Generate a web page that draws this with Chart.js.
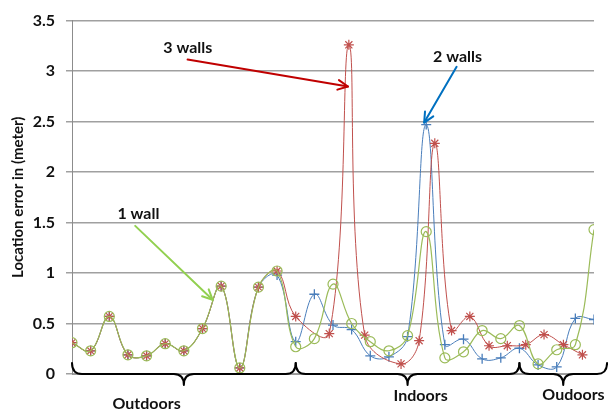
<!DOCTYPE html>
<html><head><meta charset="utf-8">
<script src="https://cdn.jsdelivr.net/npm/chart.js@4.4.0/dist/chart.umd.min.js"></script>
<style>html,body{margin:0;padding:0;background:#fff}#wrap{width:608px;height:412px;position:relative}</style>
</head><body><div id="wrap"><canvas id="c" width="608" height="412"></canvas></div>
<script>
// ---- data ----
const positions = [0,1,2,3,4,5,6,7,8,9,10,11,12,13,14,15,16,17,18,19,20,21,22,23,24,25,26,27,28];
const oneWall   = [0.31,0.23,0.57,0.19,0.18,0.30,0.23,0.45,0.87,0.06,0.86,1.02,0.27,0.35,0.89,0.50,0.32,0.23,0.38,1.41,0.16,0.22,0.43,0.35,0.48,0.10,0.24,0.29,1.43];
const twoWalls  = [0.31,0.23,0.57,0.19,0.18,0.30,0.23,0.45,0.87,0.06,0.86,0.98,0.32,0.79,0.485,0.44,0.18,0.17,0.37,2.47,0.29,0.345,0.15,0.16,0.255,0.09,0.07,0.55,0.54];
const threeWallsPos = [0,1,2,3,4,5,6,7,8,9,10,11,12,13.8,14.85,15.7,17.65,18.62,19.46,20.36,21.34,22.37,23.35,24.34,25.32,26.36,27.38];
const threeWalls    = [0.31,0.23,0.57,0.19,0.18,0.30,0.23,0.45,0.87,0.06,0.86,1.02,0.57,0.40,3.26,0.385,0.10,0.33,2.285,0.43,0.57,0.28,0.28,0.29,0.39,0.29,0.19];
const yTicks = [0,0.5,1,1.5,2,2.5,3,3.5];
const regionNames = ['Outdoors','Indoors','Oudoors'];
const regionFrom  = [0,12,24];
const regionTo    = [12,24,28.7];
const seriesNames = ['1 wall','2 walls','3 walls'];

function pts(xs, ys){ return xs.map((x,i)=>({x:x, y:ys[i]})); }

const FONT = 'Lato, "Open Sans", sans-serif';

const annot = {
  id:'annot',
  afterDraw(chart){
    const ctx = chart.ctx, xs = chart.scales.x, ys = chart.scales.y;
    const X = v=>xs.getPixelForValue(v), Y = v=>ys.getPixelForValue(v);
    ctx.save();
    const arrows = [
      {name:seriesNames[2], tx:6.21, ty:3.227, x1:6.2, y1:3.114, x2:14.8, y2:2.847, c:'#c00000'},
      {name:seriesNames[1], tx:20.68, ty:3.139, x1:20.63, y1:3.042, x2:18.89, y2:2.49, c:'#0070c0'},
      {name:seriesNames[0], tx:3.56, ty:1.59, x1:3.39, y1:1.467, x2:7.54, y2:0.736, c:'#92d050'}
    ];
    arrows.forEach(a=>{
      const ax1=X(a.x1), ay1=Y(a.y1), ax2=X(a.x2), ay2=Y(a.y2);
      ctx.strokeStyle=a.c; ctx.lineWidth=2; ctx.lineCap='round'; ctx.lineJoin='round';
      ctx.beginPath(); ctx.moveTo(ax1,ay1); ctx.lineTo(ax2,ay2); ctx.stroke();
      const ang=Math.atan2(ay2-ay1, ax2-ax1), L=11, w=0.45;
      ctx.beginPath();
      ctx.moveTo(ax2-L*Math.cos(ang-w), ay2-L*Math.sin(ang-w));
      ctx.lineTo(ax2,ay2);
      ctx.lineTo(ax2-L*Math.cos(ang+w), ay2-L*Math.sin(ang+w));
      ctx.stroke();
      ctx.fillStyle='#111'; ctx.font='bold 16px '+FONT; ctx.textAlign='center'; ctx.textBaseline='middle';
      ctx.fillText(a.name, X(a.tx), Y(a.ty));
    });
    const yEnd=363, yBody=374, yTip=385, r=10;
    ctx.strokeStyle='#000'; ctx.lineWidth=2;
    const labelY=[404,396,395], labelAt=[4,18.7,26.9];
    regionNames.forEach((n,i)=>{
      const x1=X(regionFrom[i]), x2=X(regionTo[i]), xm=(x1+x2)/2;
      ctx.beginPath();
      ctx.moveTo(x1,yEnd);
      ctx.quadraticCurveTo(x1,yBody,x1+r,yBody);
      ctx.lineTo(xm-r,yBody);
      ctx.quadraticCurveTo(xm,yBody,xm,yTip);
      ctx.quadraticCurveTo(xm,yBody,xm+r,yBody);
      ctx.lineTo(x2-r,yBody);
      ctx.quadraticCurveTo(x2,yBody,x2,yEnd);
      ctx.stroke();
      ctx.fillStyle='#111'; ctx.font='bold 16px '+FONT; ctx.textAlign='center'; ctx.textBaseline='middle';
      ctx.fillText(n, X(labelAt[i]), labelY[i]);
    });
    ctx.restore();
  }
};

new Chart(document.getElementById('c'), {
  type:'line',
  data:{datasets:[
    {label:seriesNames[0], data:pts(positions, oneWall), borderColor:'#9bbb59', backgroundColor:'rgba(0,0,0,0)', borderWidth:1.2,
     pointStyle:'circle', pointRadius:5, pointBorderColor:'#9bbb59', pointBorderWidth:1.2, tension:0.4},
    {label:seriesNames[2], data:pts(threeWallsPos, threeWalls), borderColor:'#c0504d', backgroundColor:'rgba(0,0,0,0)', borderWidth:1,
     pointStyle:'star', pointRadius:5, pointBorderColor:'#c0504d', pointBorderWidth:1.2, tension:0.4},
    {label:seriesNames[1], data:pts(positions, twoWalls), borderColor:'#4a7ebb', backgroundColor:'rgba(0,0,0,0)', borderWidth:1,
     pointStyle:'cross', pointRadius:5, pointBorderColor:'#4a7ebb', pointBorderWidth:1.3, tension:0.4}
  ]},
  options:{
    responsive:false, animation:false, devicePixelRatio:1,
    layout:{padding:{left:0,right:14,top:16,bottom:38}},
    plugins:{legend:{display:false}, tooltip:{enabled:false}},
    scales:{
      x:{type:'linear', min:0, max:28, grid:{display:false}, ticks:{display:false},
         border:{display:true,color:'#9a9a9a',width:1}, afterFit(s){s.height=0;}},
      y:{min:0, max:3.5, afterBuildTicks(s){s.ticks=yTicks.map(v=>({value:v}));},
         afterFit(s){s.width=72;},
         grid:{color:'#a0a0a0', lineWidth:1.5, tickLength:6, drawTicks:true, tickColor:'#a0a0a0'},
         border:{display:true,color:'#8c8c8c',width:1},
         ticks:{padding:11, color:'#111', font:{family:FONT, size:16, weight:'bold'}, callback:v=>String(v)},
         title:{display:true, text:'Location error in (meter)', color:'#111', font:{family:FONT,size:15,weight:'bold'}, padding:{top:9,bottom:0}}}
    }
  },
  plugins:[annot]
});
</script></body></html>
